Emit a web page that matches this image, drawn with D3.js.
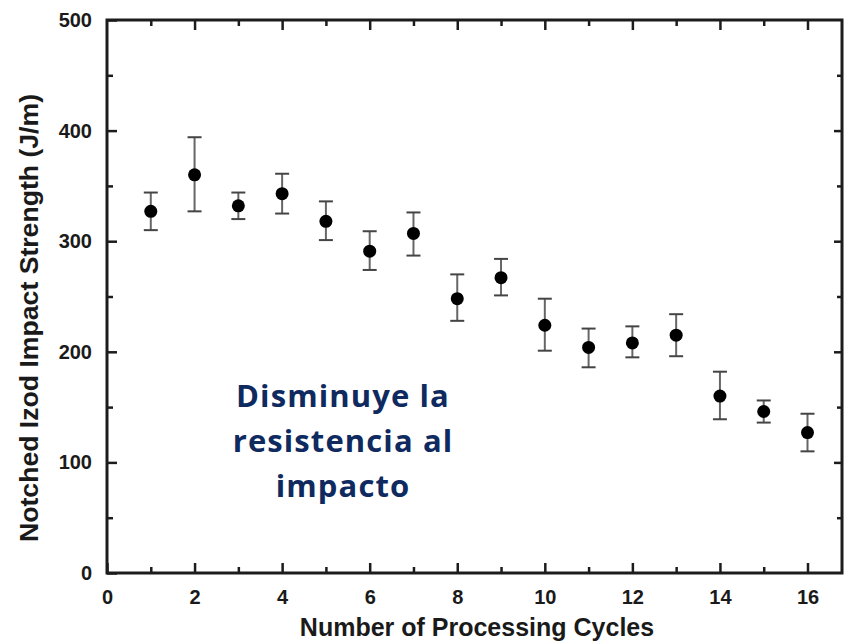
<!DOCTYPE html>
<html>
<head>
<meta charset="utf-8">
<script src="https://cdn.jsdelivr.net/npm/d3@7"></script>
<style>
  body { margin: 0; background: #fff; }
  svg { display: block; }
</style>
</head>
<body>
<svg id="canvas" width="844" height="642"></svg>
<script>
// data
let cycles = [1, 2, 3, 4, 5, 6, 7, 8, 9, 10, 11, 12, 13, 14, 15, 16]
let strength = [327, 360, 332, 343, 318, 291, 307, 248, 267, 224, 204, 208, 215, 160, 146, 127]
let errUp = [344, 394, 344, 361, 336, 309, 326, 270, 284, 248, 221, 223, 234, 182, 156, 144]
let errDown = [310, 327, 320, 325, 301, 274, 287, 228, 251, 201, 186, 195, 196, 139, 136, 110]
let xTicks = [0, 2, 4, 6, 8, 10, 12, 14, 16]
let yTicks = [0, 100, 200, 300, 400, 500]
let noteLines = ['Disminuye la', 'resistencia al', 'impacto']

let canvas = d3.select('#canvas')

let plotLeft = 107, plotRight = 842, plotTop = 20, plotBottom = 573

let xScale = d3.scaleLinear().domain([0, 16]).range([plotLeft, 807.5])
let yScale = d3.scaleLinear().domain([0, 500]).range([plotBottom, plotTop])

let axisColor = '#1c1c1c'

// inward ticks on all four sides, major + minor
let xMinor = d3.range(1, 17, 2)
let yMinor = d3.range(50, 500, 100)

let bottomAxis = d3.axisBottom(xScale).tickValues(xTicks).tickSize(-10).tickPadding(17).tickFormat(d3.format('d'))
let bottomMinor = d3.axisBottom(xScale).tickValues(xMinor).tickSize(-6).tickFormat('')
let topAxis = d3.axisTop(xScale).tickValues(xTicks.filter(d => d > 0)).tickSize(-10).tickFormat('')
let topMinor = d3.axisTop(xScale).tickValues(xMinor).tickSize(-6).tickFormat('')
let leftAxis = d3.axisLeft(yScale).tickValues(yTicks).tickSize(-10).tickPadding(15)
let leftMinor = d3.axisLeft(yScale).tickValues(yMinor).tickSize(-6).tickFormat('')
let rightAxis = d3.axisRight(yScale).tickValues(yTicks.filter(d => d > 0 && d < 500)).tickSize(-8).tickFormat('')
let rightMinor = d3.axisRight(yScale).tickValues(yMinor).tickSize(-5).tickFormat('')

let addAxis = (axis, transform) => {
    let g = canvas.append('g').attr('transform', transform).call(axis)
    g.select('.domain').remove()
    g.selectAll('.tick line').attr('stroke', axisColor).attr('stroke-width', 2.5)
    g.selectAll('.tick text')
        .attr('fill', '#1a1a1a')
        .style('font-family', '"Liberation Sans", Arial, sans-serif')
        .style('font-weight', 'bold')
        .style('font-size', '20px')
    return g
}

addAxis(bottomAxis, `translate(0,${plotBottom})`)
addAxis(bottomMinor, `translate(0,${plotBottom})`)
addAxis(topAxis, `translate(0,${plotTop})`)
addAxis(topMinor, `translate(0,${plotTop})`)
addAxis(leftAxis, `translate(${plotLeft},0)`)
addAxis(leftMinor, `translate(${plotLeft},0)`)
addAxis(rightAxis, `translate(${plotRight},0)`)
addAxis(rightMinor, `translate(${plotRight},0)`)

// frame
canvas.append('rect')
    .attr('x', plotLeft)
    .attr('y', plotTop)
    .attr('width', plotRight - plotLeft)
    .attr('height', plotBottom - plotTop)
    .attr('fill', 'none')
    .attr('stroke', axisColor)
    .attr('stroke-width', 3)

// axis titles
canvas.append('text')
    .attr('x', 477)
    .attr('y', 636)
    .attr('text-anchor', 'middle')
    .attr('fill', '#1a1a1a')
    .style('font-family', '"Liberation Sans", Arial, sans-serif')
    .style('font-weight', 'bold')
    .style('font-size', '25px')
    .text('Number of Processing Cycles')

canvas.append('text')
    .attr('transform', 'translate(38,318) rotate(-90)')
    .attr('text-anchor', 'middle')
    .attr('fill', '#1a1a1a')
    .attr('textLength', 448)
    .attr('lengthAdjust', 'spacingAndGlyphs')
    .style('font-family', '"Liberation Sans", Arial, sans-serif')
    .style('font-weight', 'bold')
    .style('font-size', '25px')
    .text('Notched Izod Impact Strength (J/m)')

// error bars and points
let points = cycles.map((c, i) => ({ c: c, v: strength[i], hi: errUp[i], lo: errDown[i] }))

let block = canvas.selectAll('g.pt')
    .data(points)
    .enter()
    .append('g')
    .attr('class', 'pt')

block.append('line')
    .attr('x1', d => xScale(d.c))
    .attr('x2', d => xScale(d.c))
    .attr('y1', d => yScale(d.hi))
    .attr('y2', d => yScale(d.lo))
    .attr('stroke', '#666')
    .attr('stroke-width', 2)

block.selectAll('line.cap')
    .data(d => [{ c: d.c, y: d.hi }, { c: d.c, y: d.lo }])
    .enter()
    .append('line')
    .attr('class', 'cap')
    .attr('x1', d => xScale(d.c) - 7)
    .attr('x2', d => xScale(d.c) + 7)
    .attr('y1', d => yScale(d.y))
    .attr('y2', d => yScale(d.y))
    .attr('stroke', '#444')
    .attr('stroke-width', 2)

block.append('circle')
    .attr('cx', d => xScale(d.c))
    .attr('cy', d => yScale(d.v))
    .attr('r', 6.5)
    .attr('fill', '#000')

// annotation
canvas.append('text')
    .attr('x', 343)
    .attr('y', 407)
    .attr('text-anchor', 'middle')
    .attr('fill', '#0f2a5f')
    .style('font-family', '"Open Sans", sans-serif')
    .style('font-weight', 'bold')
    .style('font-size', '31px')
    .style('letter-spacing', '1.1px')
    .selectAll('tspan')
    .data(noteLines)
    .enter()
    .append('tspan')
    .attr('x', 343)
    .attr('dy', (d, i) => i === 0 ? 0 : 45)
    .text(d => d)
</script>
</body>
</html>
